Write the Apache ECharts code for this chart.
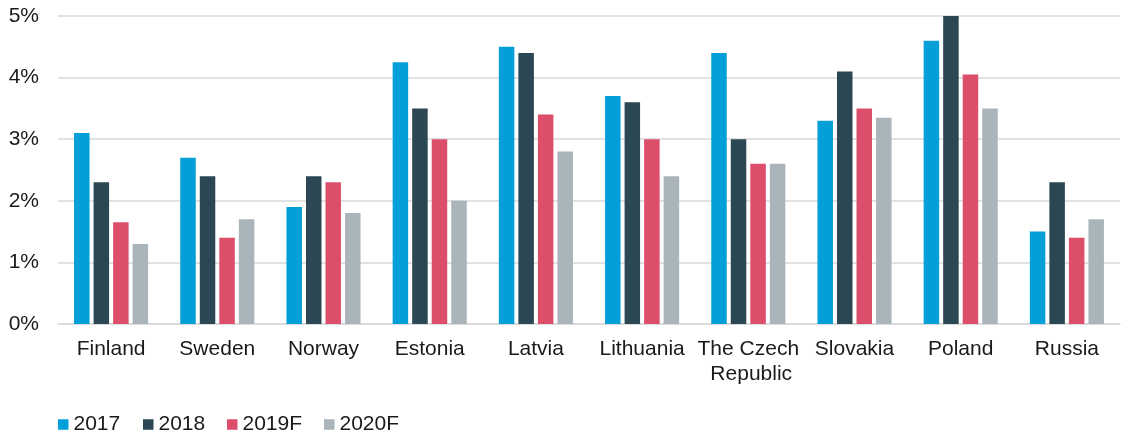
<!DOCTYPE html>
<html>
<head>
<meta charset="utf-8">
<script src="https://cdn.jsdelivr.net/npm/echarts@6/dist/echarts.min.js"></script>
<style>
html,body{margin:0;padding:0;background:#fff;}
#chart{width:1124px;height:435px;}
</style>
</head>
<body>
<div id="chart"></div>
<script>
const categories = ['Finland','Sweden','Norway','Estonia','Latvia','Lithuania','The Czech Republic','Slovakia','Poland','Russia'];
const seriesNames = ['2017','2018','2019F','2020F'];
const v2017  = [3.1, 2.7, 1.9, 4.25, 4.5, 3.7, 4.4, 3.3, 4.6, 1.5];
const v2018  = [2.3, 2.4, 2.4, 3.5, 4.4, 3.6, 3.0, 4.1, 5.0, 2.3];
const v2019F = [1.65, 1.4, 2.3, 3.0, 3.4, 3.0, 2.6, 3.5, 4.05, 1.4];
const v2020F = [1.3, 1.7, 1.8, 2.0, 2.8, 2.4, 2.6, 3.35, 3.5, 1.7];
const yTicks = [0,1,2,3,4,5];
const colors = ['#039fd9','#2a4753','#dd4e6b','#aab4bb'];

const dataSets = [v2017, v2018, v2019F, v2020F];
const legendLeft = [58, 143, 227, 324];
const font = 'Liberation Sans, Arial, sans-serif';
const chart = echarts.init(document.getElementById('chart'), null, {renderer:'canvas'});
chart.setOption({
  animation:false,
  textStyle:{fontFamily:font},
  grid:{left:58,right:4,top:16,bottom:111,containLabel:false},
  legend: seriesNames.map((n,i)=>({
    data:[n],
    left:legendLeft[i], top:414, padding:0,
    icon:'rect', itemWidth:10.5, itemHeight:10.5,
    textStyle:{fontFamily:font,fontSize:21,color:'#1a1a1a'}
  })),
  xAxis:{
    type:'category', data:categories,
    axisTick:{show:false},
    axisLine:{lineStyle:{color:'#d9d9d9',width:1.5}},
    axisLabel:{fontFamily:font,fontSize:21,color:'#1a1a1a',margin:13,interval:0,width:106,overflow:'break',lineHeight:25}
  },
  yAxis:{
    type:'value', min:yTicks[0], max:yTicks[yTicks.length-1], interval:1,
    axisLine:{show:false}, axisTick:{show:false},
    splitLine:{lineStyle:{color:'#d9d9d9',width:1.5}},
    axisLabel:{fontFamily:font,fontSize:21,color:'#1a1a1a',margin:19,formatter:'{value}%'}
  },
  series: seriesNames.map((n,i)=>({
    name:n, type:'bar', data:dataSets[i],
    barWidth:15.5, barGap:'26%',
    itemStyle:{color:colors[i]}
  }))
});
</script>
</body>
</html>
